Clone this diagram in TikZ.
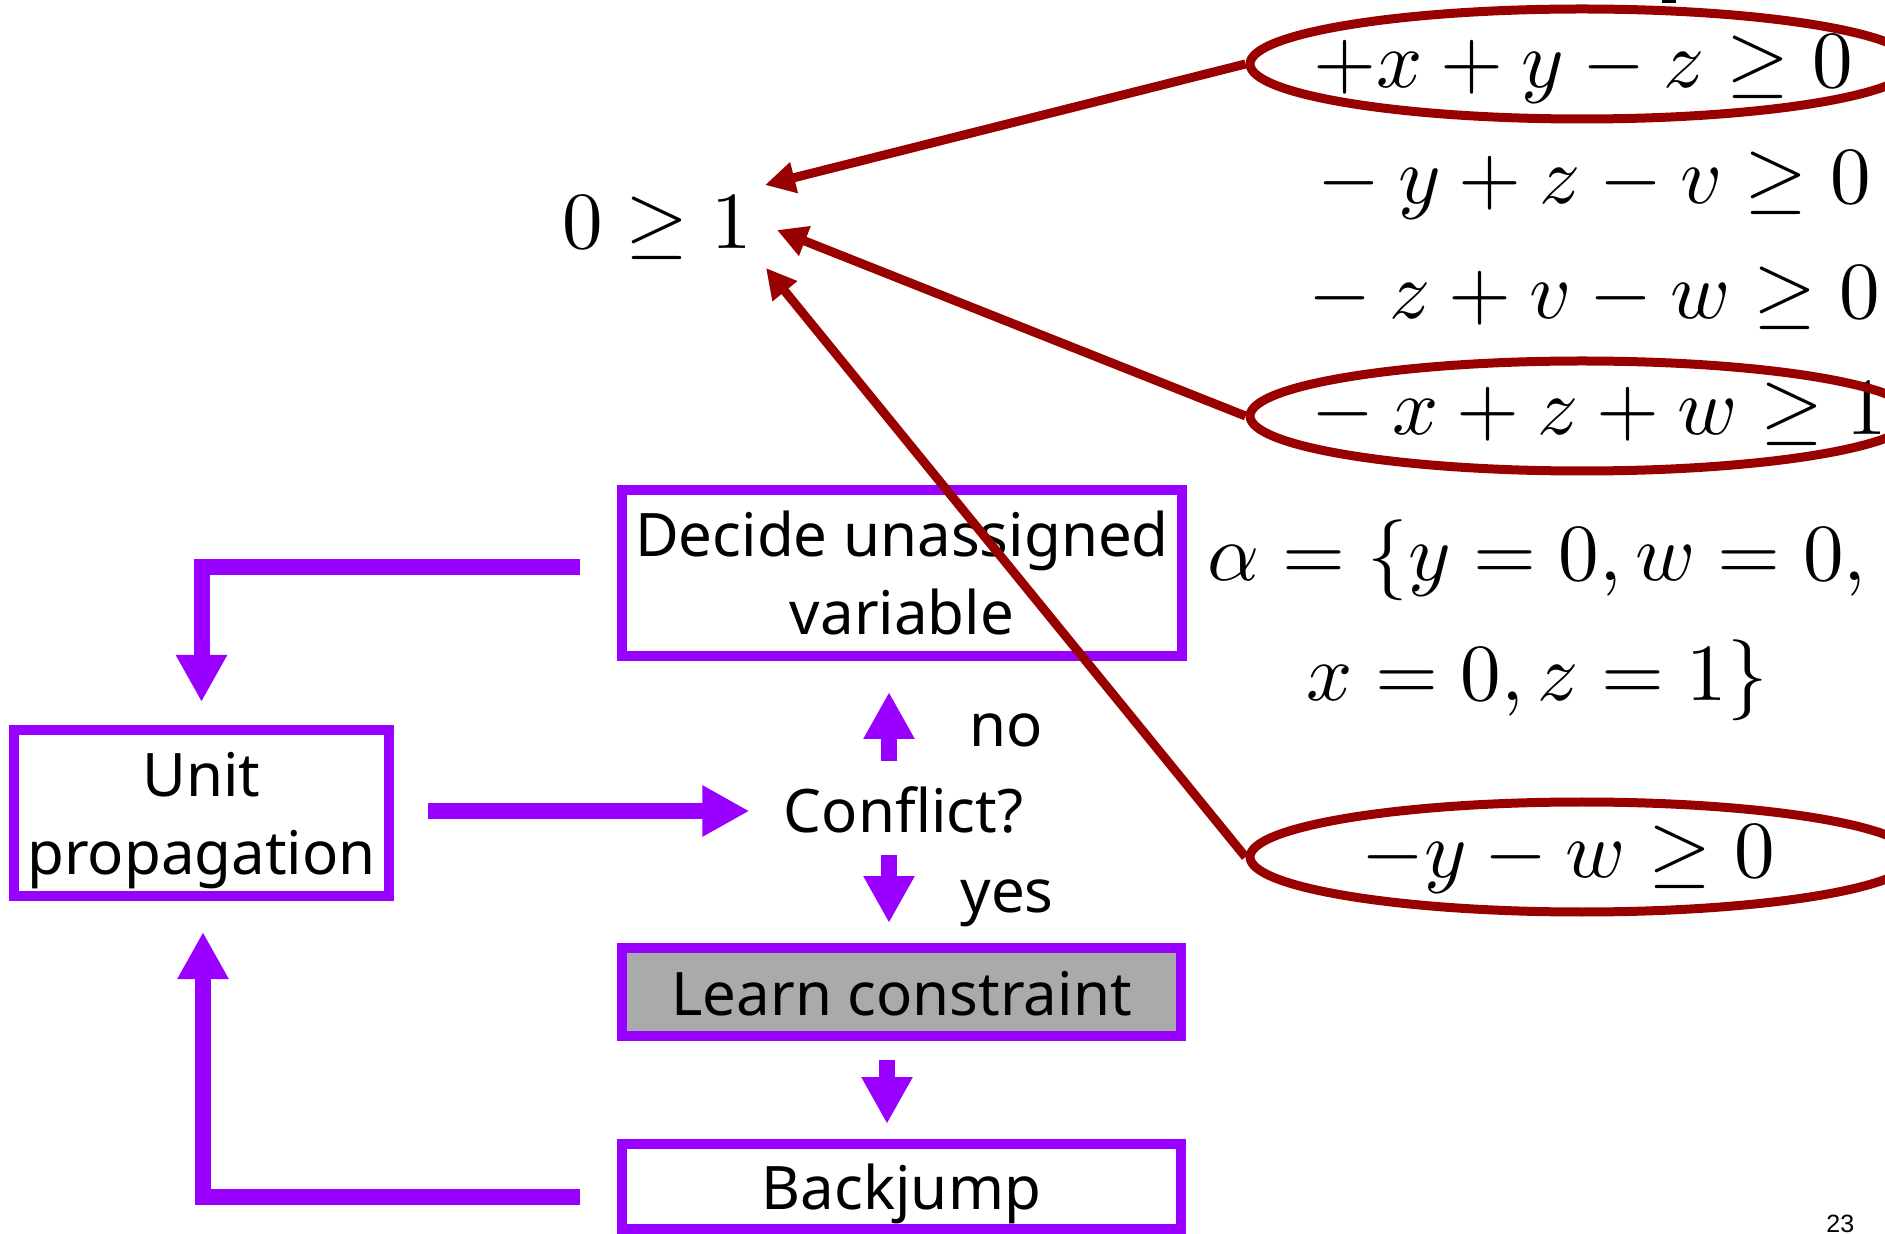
\documentclass[tikz,border=0pt]{standalone}
\usepackage{fontspec}
\setmainfont{Noto Sans}
\newfontfamily\pagefont{Liberation Sans}
% scale the 10pt math designs to any size
\DeclareFontShape{OT1}{cmr}{m}{n}{<-> cmr10}{}
\DeclareFontShape{OML}{cmm}{m}{it}{<-> cmmi10}{}
\DeclareFontShape{OMS}{cmsy}{m}{n}{<-> cmsy10}{}
\DeclareFontShape{OMX}{cmex}{m}{n}{<-> cmex10}{}
\usetikzlibrary{arrows.meta,calc,shapes.geometric}
\definecolor{flowpurple}{HTML}{9900FF}
\definecolor{proofred}{HTML}{990000}
\definecolor{learngray}{HTML}{AAAAAA}
\newcommand{\flowfont}{\fontsize{30}{39}\selectfont}
\newcommand{\eqfont}{\fontsize{40.5}{50}\selectfont}
\begin{document}
\begin{tikzpicture}[x=0.5pt,y=-0.5pt,
  stepbox/.style={draw=flowpurple,line width=5pt,rectangle,inner sep=0pt,font=\flowfont},
  flow/.style={draw=flowpurple,line width=8pt,-{Triangle[length=23.5pt,width=24pt]}},
  flowlabel/.style={font=\flowfont,inner sep=0pt,anchor=base west},
  eqtext/.style={inner sep=0pt,font=\eqfont},
  ring/.style={draw=proofred,line width=4.5pt,ellipse,inner sep=0pt,
    minimum width=332pt,minimum height=55pt},
  proof/.style={draw=proofred,line width=4.5pt,-{Triangle[length=15pt,width=15pt]}}]
\useasboundingbox (0,0) rectangle (1885,1234);
\clip (0,0) rectangle (1885,1234);

% the CDCL loop
\node[stepbox,align=center,minimum width=280pt,minimum height=83pt] (dec) at (902,573)
  {Decide unassigned\\variable};
\node[stepbox,align=center,minimum width=187.5pt,minimum height=83pt,text depth=0pt]
  (unit) at (201.5,813) {Unit\\propagation};
\node[stepbox,fill=learngray,minimum width=279.5pt,minimum height=44pt,
  text height=23pt,text depth=0pt] (learn) at (901.5,992) {Learn constraint};
\node[stepbox,minimum width=279.5pt,minimum height=42.5pt,
  text height=23pt,text depth=0pt] (back) at (901.5,1186.5) {Backjump};
\node[font=\flowfont,inner sep=0pt,text height=23pt,text depth=0pt,anchor=base]
  (conf) at (903.5,833) {Conflict?};
\node[flowlabel] (nolbl) at (969,747) {no};
\node[flowlabel] (yeslbl) at (960,913) {yes};

\draw[flow] ($(dec.west)+(-37,-6)$) -| ($(unit.north)+(0,-23)$);
\draw[flow] ($(unit.east)+(34,-2)$) -- ($(conf.west)+(-34,1)$);
\draw[flow] ($(conf.north)+(-14.5,-26)$) -- ($(dec.south)+(-13,31)$);
\draw[flow] ($(conf.south)+(-14.5,22)$) -- ($(learn.north)+(-12.5,-20)$);
\draw[flow] ($(learn.south)+(-14.5,19)$) -- ($(back.north)+(-14.5,-15)$);
\draw[flow] ($(back.west)+(-37,10.5)$) -| ($(unit.south)+(1.5,31)$);

% constraints and the derived contradiction
\node[eqtext] (zero) at (657,228) {$0\geq 1$};
\node[eqtext] (c1) at (1583,69) {$+x+y-z\geq 0$};
\node[eqtext] (c2) at (1585,185) {${}-y+z-v\geq 0$};
\node[eqtext] (c3) at (1585,298) {${}-z+v-w\geq 0$};
\node[eqtext] (c4) at (1590,414) {${}-x+z+w\geq 1$};
\node[eqtext] (c5) at (1568,859) {$-y-w\geq 0$};
\node[eqtext,align=center,font=\fontsize{40.5}{60}\selectfont] (alpha) at (1537,620)
  {$\alpha=\{y=0,w=0,$\\$x=0,z=1\}$};

\node[ring] (e1) at (1582,64) {};
\node[ring] (e2) at (1582,416) {};
\node[ring] (e3) at (1582,857) {};

\draw[proof] (e1.west) -- ($(zero)+(108,-43)$);
\draw[proof] (e2.west) -- ($(zero)+(120,2)$);
\draw[proof] (e3.west) -- ($(zero)+(109,40)$);

% page furniture
\fill (1662,0) rectangle (1676,3);
\node[font=\pagefont\fontsize{12.5}{15}\selectfont,anchor=base west,inner sep=0pt]
  (pg) at (1826,1232) {23};
\end{tikzpicture}
\end{document}
